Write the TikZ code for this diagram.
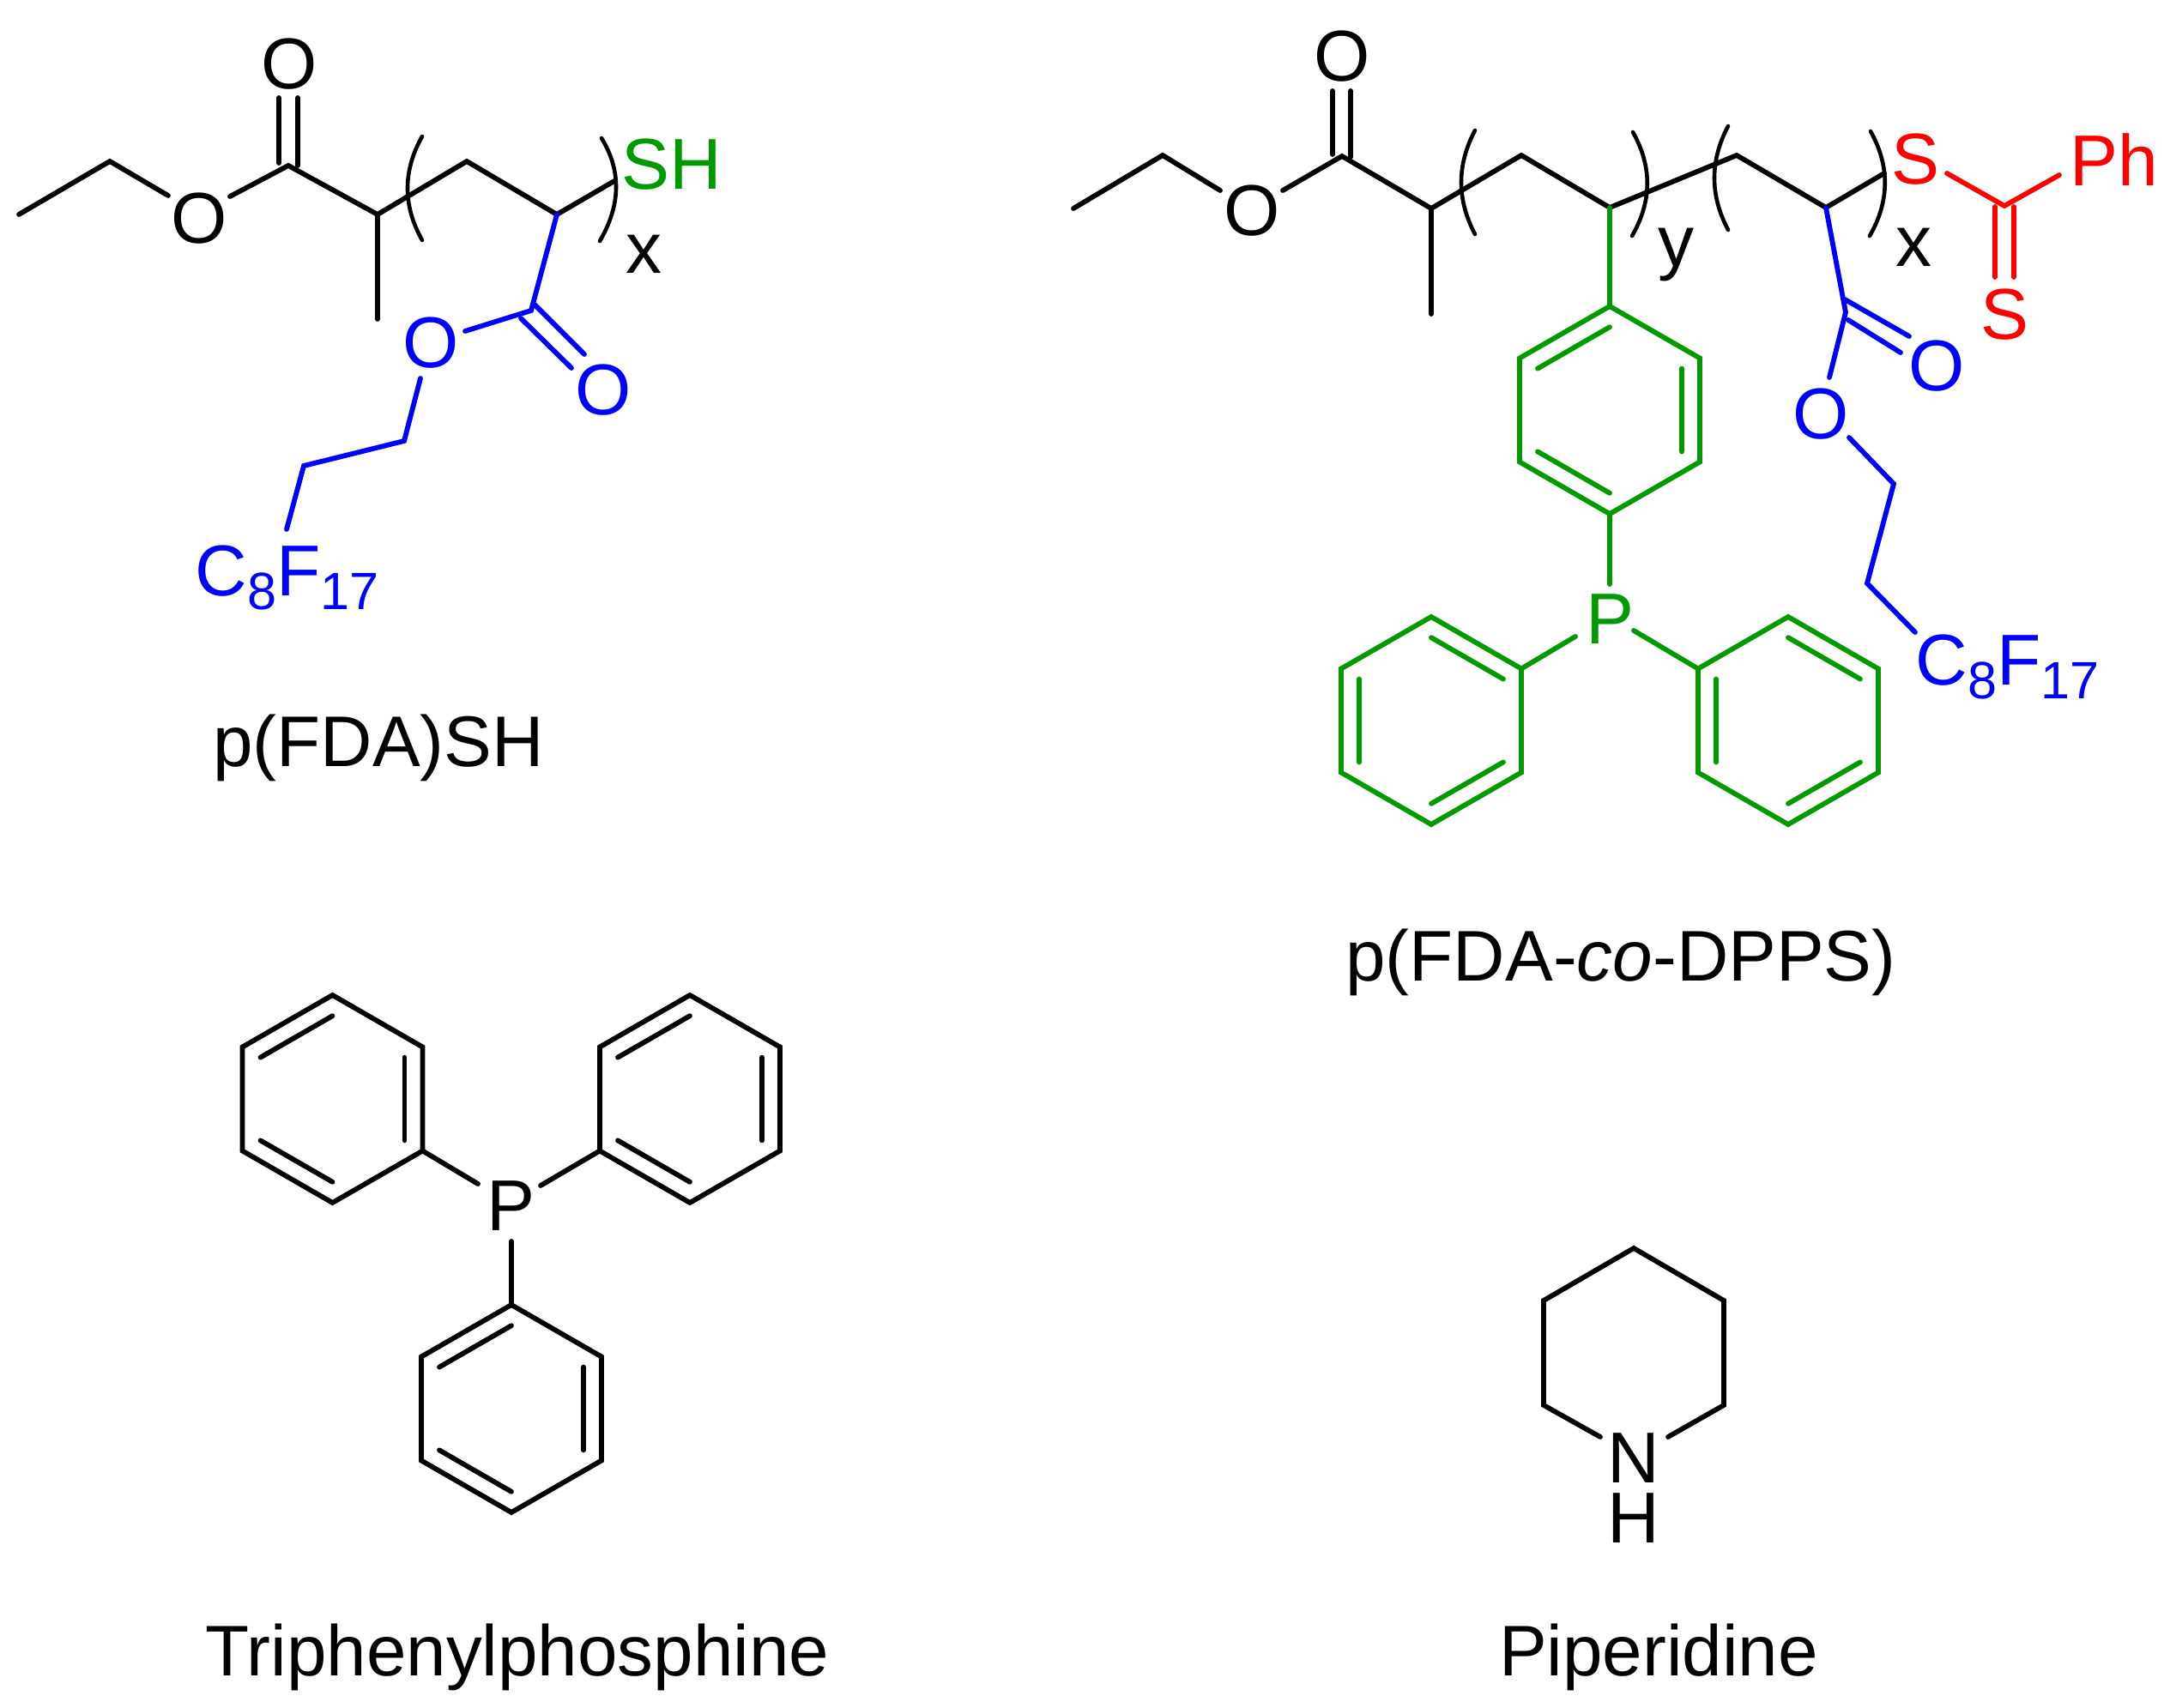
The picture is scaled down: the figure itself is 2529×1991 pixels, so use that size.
\documentclass[tikz,border=0pt]{standalone}
\usepackage{fontspec}
\setmainfont{Liberation Sans}
\definecolor{chemgreen}{RGB}{0,153,0}
\definecolor{chemblue}{RGB}{0,0,255}
\definecolor{chemred}{RGB}{255,0,0}
\tikzset{
  bond/.style={line width=1.45pt,line cap=round,line join=miter},
  brk/.style={line width=1.15pt,line cap=round},
  atom/.style={inner sep=0pt,font=\fontsize{21}{21}\selectfont},
  letter/.style={inner sep=0pt,anchor=base,font=\fontsize{21}{21}\selectfont},
  chain/.style={inner sep=0pt,anchor=base west,text=chemblue,font=\fontsize{21}{21}\selectfont},
  capt/.style={inner sep=0pt,anchor=base,font=\fontsize{20.9}{21}\selectfont},
}
\newcommand{\subs}[1]{\raisebox{-4pt}{\fontsize{15.3}{15.3}\selectfont #1}}
\newcommand{\hexat}[3]{%
  \coordinate (#1-1) at ({#2},{#3-121});
  \coordinate (#1-2) at ({#2+105},{#3-60.5});
  \coordinate (#1-3) at ({#2+105},{#3+60.5});
  \coordinate (#1-4) at ({#2},{#3+121});
  \coordinate (#1-5) at ({#2-105},{#3+60.5});
  \coordinate (#1-6) at ({#2-105},{#3-60.5});
  \coordinate (#1-c) at ({#2},{#3});
}
\newcommand{\hexdraw}[2]{%
  \draw[bond,#2] (#1-1)--(#1-2)--(#1-3)--(#1-4)--(#1-5)--(#1-6)--cycle;
}
\newcommand{\innerbond}[4]{%
  \draw[bond,#4] ($(#1-#2)!0.2!(#1-c)$)--($(#1-#3)!0.2!(#1-c)$);
}
\newcommand{\arc}[7]{%
  \coordinate (#1s) at (#2,#3);\coordinate (#1m) at (#4,#5);\coordinate (#1e) at (#6,#7);
  \draw[brk] (#1s) .. controls ($(#1s)!0.667!(#1m)$) and ($(#1e)!0.667!(#1m)$) .. (#1e);
}
\usetikzlibrary{calc}
\begin{document}
\begin{tikzpicture}[x=0.25pt,y=-0.25pt]
\path[use as bounding box,fill=white] (0,0) rectangle (2529,1991);

% ---------- p(FDA)SH ----------
\node[atom] (aOt) at (337,75) {O};
\node[atom] (aO) at (232,255) {O};
\node[atom,text=chemgreen] (aSH) at (783,192) {SH};
\node[letter] (ax) at (750,318) {x};
\node[atom,text=chemblue] (aOr) at (703,455) {O};
\node[atom,text=chemblue] (aOb) at (502,400) {O};
\node[chain] (aF) at (227,694) {C\subs{8}F\subs{17}};
\coordinate (a1) at (22,250);
\coordinate (a2) at (128,188);
\coordinate (a2e) at (196,228);
\coordinate (a3s) at (268,229);
\coordinate (a3) at (336,193);
\coordinate (a4) at (440,250);
\coordinate (a4m) at (440,372);
\coordinate (a5) at (544,188);
\coordinate (a6) at (649,250);
\coordinate (a7) at (716,211);
\coordinate (ad1a) at (325,114);\coordinate (ad1b) at (325,190);
\coordinate (ad2a) at (347,114);\coordinate (ad2b) at (347,193);
\coordinate (a8) at (619,362);
\coordinate (ad3a) at (623,355);\coordinate (ad3b) at (681,413);
\coordinate (ad4a) at (607,371);\coordinate (ad4b) at (666,429);
\coordinate (a9s) at (542,386);
\coordinate (a10s) at (490,441);
\coordinate (a10) at (471,514);
\coordinate (a11) at (354,543);
\coordinate (a11e) at (334,617);
\draw[bond] (a1)--(a2)--(a2e);
\draw[bond] (a3s)--(a3)--(a4)--(a5)--(a6)--(a7);
\draw[bond] (a4)--(a4m);
\draw[bond] (ad1a)--(ad1b);
\draw[bond] (ad2a)--(ad2b);
\draw[bond,chemblue] (a6)--(a8)--(a9s);
\draw[bond,chemblue] (ad3a)--(ad3b);
\draw[bond,chemblue] (ad4a)--(ad4b);
\draw[bond,chemblue] (a10s)--(a10)--(a11)--(a11e);
\arc{abl}{492}{159}{458}{219.5}{492}{280}
\arc{abr}{701}{161}{736}{218}{699}{281}
\node[capt] (acap) at (441,893) {p(FDA)SH};

% ---------- p(FDA-co-DPPS) ----------
\node[atom] (bOt) at (1564,66) {O};
\node[atom] (bO) at (1459,246) {O};
\node[atom,text=chemred] (bS) at (2232,186) {S};
\node[atom,text=chemred] (bPh) at (2464,186) {Ph};
\node[atom,text=chemred] (bS2) at (2336,367) {S};
\node[letter] (by) at (1953,310) {y};
\node[letter] (bx) at (2230,310) {x};
\node[atom,text=chemblue] (bOr) at (2257,427) {O};
\node[atom,text=chemblue] (bOb) at (2122,483) {O};
\node[atom,text=chemgreen] (bP) at (1876,722) {P};
\node[chain] (bF) at (2232,798) {C\subs{8}F\subs{17}};
\coordinate (b1) at (1251,243);
\coordinate (b2) at (1355,181);
\coordinate (b2e) at (1422,222);
\coordinate (b3s) at (1495,222);
\coordinate (b3) at (1564,182);
\coordinate (b4) at (1668,243);
\coordinate (b4m) at (1668,366);
\coordinate (b5) at (1773,181);
\coordinate (b6) at (1876,242);
\coordinate (b7) at (2024,181);
\coordinate (b8) at (2128,242);
\coordinate (b9) at (2196,202);
\coordinate (bd1a) at (1553,106);\coordinate (bd1b) at (1553,180);
\coordinate (bd2a) at (1574,106);\coordinate (bd2b) at (1574,183);
\draw[bond] (b1)--(b2)--(b2e);
\draw[bond] (b3s)--(b3)--(b4)--(b5)--(b6)--(b7)--(b8)--(b9);
\draw[bond] (b4)--(b4m);
\draw[bond] (bd1a)--(bd1b);
\draw[bond] (bd2a)--(bd2b);
% thiocarbonyl
\coordinate (bt) at (2336,240);
\coordinate (bts) at (2269,202);
\coordinate (btp) at (2400,204);
\coordinate (bd3a) at (2325,241);\coordinate (bd3b) at (2325,323);
\coordinate (bd4a) at (2347,241);\coordinate (bd4b) at (2347,323);
\draw[bond,chemred] (bts)--(bt)--(btp);
\draw[bond,chemred] (bd3a)--(bd3b);
\draw[bond,chemred] (bd4a)--(bd4b);
% ester
\coordinate (bc) at (2151,364);
\coordinate (bcO) at (2132,440);
\coordinate (bd5a) at (2150,349);\coordinate (bd5b) at (2225,392);
\coordinate (bd6a) at (2154,373);\coordinate (bd6b) at (2215,411);
\coordinate (be1) at (2155,510);
\coordinate (be2) at (2207,564);
\coordinate (be3) at (2176,680);
\coordinate (be4) at (2232,737);
\draw[bond,chemblue] (b8)--(bc)--(bcO);
\draw[bond,chemblue] (bd5a)--(bd5b);
\draw[bond,chemblue] (bd6a)--(bd6b);
\draw[bond,chemblue] (be1)--(be2)--(be3)--(be4);
% rings
\hexat{rA}{1876}{478}
\hexat{rB}{1668}{840}
\hexat{rC}{2084}{840}
\hexdraw{rA}{chemgreen}
\hexdraw{rB}{chemgreen}
\hexdraw{rC}{chemgreen}
\innerbond{rA}{1}{6}{chemgreen}
\innerbond{rA}{2}{3}{chemgreen}
\innerbond{rA}{4}{5}{chemgreen}
\innerbond{rB}{1}{2}{chemgreen}
\innerbond{rB}{5}{6}{chemgreen}
\innerbond{rB}{3}{4}{chemgreen}
\innerbond{rC}{1}{2}{chemgreen}
\innerbond{rC}{5}{6}{chemgreen}
\innerbond{rC}{3}{4}{chemgreen}
\coordinate (bPt) at (1876,681);
\coordinate (bPl) at (1836,742);
\coordinate (bPr) at (1904,735);
\draw[bond,chemgreen] (b6)--(rA-1);
\draw[bond,chemgreen] (rA-4)--(bPt);
\draw[bond,chemgreen] (bPl)--(rB-2);
\draw[bond,chemgreen] (bPr)--(rC-6);
\arc{bb1}{1719}{152}{1687}{212.5}{1719}{273}
\arc{bb2}{1903}{154}{1937}{214.5}{1902}{275}
\arc{bb3}{2014}{147}{1982}{207.5}{2014}{268}
\arc{bb4}{2180}{153}{2214}{214}{2179}{275}
\node[capt] (bcap) at (1889,1143) {p(FDA-\textit{co}-DPPS)};

% ---------- Triphenylphosphine ----------
\node[atom] (cP) at (596,1406) {P};
\hexat{rL}{387.5}{1281}
\hexat{rR}{804}{1281}
\hexat{rD}{596}{1642}
\hexdraw{rL}{}
\hexdraw{rR}{}
\hexdraw{rD}{}
\innerbond{rL}{1}{6}{}
\innerbond{rL}{2}{3}{}
\innerbond{rL}{4}{5}{}
\innerbond{rR}{1}{6}{}
\innerbond{rR}{2}{3}{}
\innerbond{rR}{4}{5}{}
\innerbond{rD}{1}{6}{}
\innerbond{rD}{2}{3}{}
\innerbond{rD}{4}{5}{}
\coordinate (cPl) at (557,1380);
\coordinate (cPr) at (630,1382);
\coordinate (cPb) at (596,1447);
\draw[bond] (rL-3)--(cPl);
\draw[bond] (rR-5)--(cPr);
\draw[bond] (cPb)--(rD-1);
\node[capt] (ccap) at (603,1953) {Triphenylphosphine};

% ---------- Piperidine ----------
\node[inner sep=0pt,align=center,font=\fontsize{21}{17.5}\selectfont] (dN) at (1904,1735) {N\\H};
\coordinate (d1) at (1904,1455);
\coordinate (d2) at (2009,1516);
\coordinate (d3) at (2009,1638);
\coordinate (d4) at (1944,1675);
\coordinate (d5) at (1799,1638);
\coordinate (d6) at (1799,1516);
\coordinate (d7) at (1865,1675);
\draw[bond] (d4)--(d3)--(d2)--(d1)--(d6)--(d5)--(d7);
\node[capt] (dcap) at (1933,1953) {Piperidine};
\end{tikzpicture}
\end{document}
